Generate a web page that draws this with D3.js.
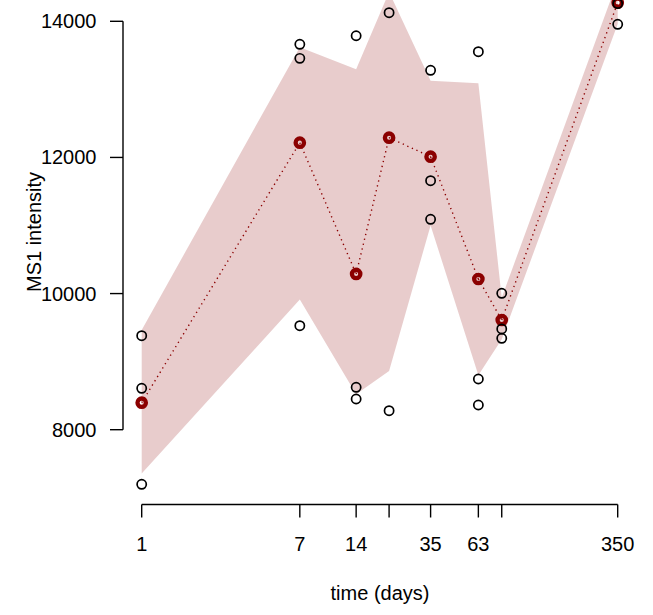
<!DOCTYPE html>
<html>
<head>
<meta charset="utf-8">
<script src="https://cdn.jsdelivr.net/npm/d3@7"></script>
<style>
  html, body { margin: 0; padding: 0; background: #fff; }
  svg { display: block; }
  text { font-family: "Liberation Sans", Arial, Helvetica, sans-serif; fill: #000; }
</style>
</head>
<body>
<svg id="chart" width="653" height="615"></svg>
<script>
// ---- data ----
const days = [1, 7, 14, 21, 35, 63, 84, 350];
const rep1 = [9381, 13662, 13788, 14126, 13280, 13553, 10004, 14260];
const rep2 = [8608, 13456, 8623, 8279, 11658, 8745, 9480, 13956];
const rep3 = [7198, 9528, 8451, 14465, 11091, 8363, 9343, 14613];
const means = [8397, 12217, 10288, 12290, 12011, 10214, 9612, 14273];
const bandLower = [7358, 9912, 8520, 8863, 11000, 8800, 9330, 13960];
const bandUpper = [9465, 13620, 13295, 14430, 13128, 13089, 9940, 14600];
const xTicks = [1, 7, 14, 21, 35, 63, 84, 350];
const xTickLabels = ["1", "7", "14", "", "35", "63", "", "350"];
const yTicks = [8000, 10000, 12000, 14000];
const xTitle = "time (days)";
const yTitle = "MS1 intensity";

// ---- layout ----
const svg = d3.select("#chart");
const x = d3.scaleLog().domain([1, 350]).range([141.7, 617.7]);
const y = d3.scaleLinear().domain([8000, 14000]).range([429.7, 21.3]);
const axisX = 504.5, axisYx = 123, tickLen = 13;
const darkred = "#8B0000";

// band
const band = days.map((d, i) => ({d, lo: bandLower[i], hi: bandUpper[i]}));
svg.append("path")
  .datum(band)
  .attr("d", d3.area().x(p => x(p.d)).y0(p => y(p.lo)).y1(p => y(p.hi)))
  .attr("fill", darkred)
  .attr("fill-opacity", 0.2)
  .attr("stroke", "none");

// mean points (red)
svg.append("g").selectAll("circle")
  .data(days.map((d, i) => ({d, v: means[i]})))
  .join("circle")
  .attr("cx", p => x(p.d)).attr("cy", p => y(p.v))
  .attr("r", 4.2)
  .attr("fill", "none")
  .attr("stroke", darkred)
  .attr("stroke-width", 4.3);

// dotted mean line (segment by segment)
const segs = d3.pairs(days.map((d, i) => ({d, v: means[i]})));
svg.append("g").selectAll("line")
  .data(segs)
  .join("line")
  .attr("x1", s => x(s[0].d)).attr("y1", s => y(s[0].v))
  .attr("x2", s => x(s[1].d)).attr("y2", s => y(s[1].v))
  .attr("stroke", darkred)
  .attr("stroke-width", 1.4)
  .attr("stroke-dasharray", "1.3,3.7");

// replicate points (black open circles)
const reps = [];
days.forEach((d, i) => { [rep1[i], rep2[i], rep3[i]].forEach(v => reps.push({d, v})); });
svg.append("g").selectAll("circle")
  .data(reps)
  .join("circle")
  .attr("cx", p => x(p.d)).attr("cy", p => y(p.v))
  .attr("r", 4.6)
  .attr("fill", "none")
  .attr("stroke", "#000")
  .attr("stroke-width", 1.7);

// x axis
const gx = svg.append("g");
gx.append("line")
  .attr("x1", x(xTicks[0])).attr("x2", x(xTicks[xTicks.length - 1]))
  .attr("y1", axisX).attr("y2", axisX)
  .attr("stroke", "#000").attr("stroke-width", 1.4);
gx.selectAll("line.tick").data(xTicks).join("line")
  .attr("class", "tick")
  .attr("x1", d => x(d)).attr("x2", d => x(d))
  .attr("y1", axisX).attr("y2", axisX + tickLen)
  .attr("stroke", "#000").attr("stroke-width", 1.4);
gx.selectAll("text").data(xTicks).join("text")
  .attr("x", d => x(d)).attr("y", 550.5)
  .attr("text-anchor", "middle")
  .attr("font-size", 20)
  .text((d, i) => xTickLabels[i]);

// y axis
const gy = svg.append("g");
gy.append("line")
  .attr("x1", axisYx).attr("x2", axisYx)
  .attr("y1", y(yTicks[0])).attr("y2", y(yTicks[yTicks.length - 1]))
  .attr("stroke", "#000").attr("stroke-width", 1.4);
gy.selectAll("line.tick").data(yTicks).join("line")
  .attr("class", "tick")
  .attr("x1", axisYx - tickLen).attr("x2", axisYx)
  .attr("y1", d => y(d)).attr("y2", d => y(d))
  .attr("stroke", "#000").attr("stroke-width", 1.4);
gy.selectAll("text").data(yTicks).join("text")
  .attr("x", 96.5).attr("y", d => y(d))
  .attr("dy", "0.35em")
  .attr("text-anchor", "end")
  .attr("font-size", 20)
  .text(d => String(d));

// titles
svg.append("text")
  .attr("x", 380).attr("y", 600)
  .attr("text-anchor", "middle")
  .attr("font-size", 20)
  .text(xTitle);
svg.append("text")
  .attr("transform", "translate(41,232) rotate(-90)")
  .attr("text-anchor", "middle")
  .attr("font-size", 20)
  .text(yTitle);
</script>
</body>
</html>
